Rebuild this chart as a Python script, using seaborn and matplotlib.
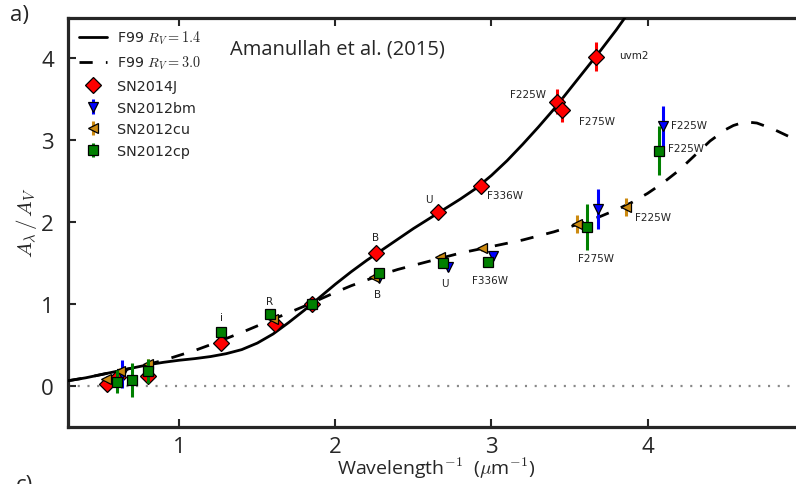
import matplotlib
matplotlib.use("Agg")
import matplotlib.pyplot as plt
from matplotlib.lines import Line2D
import numpy as np
import pandas as pd
import seaborn as sns

# --- F99 extinction curves (A_lambda / A_V) ---
f99_x = [0.29, 0.40, 0.50, 0.60, 0.70, 0.80, 0.90, 1.00, 1.10, 1.20, 1.30, 1.40,
         1.50, 1.60, 1.70, 1.80, 1.90, 2.00, 2.10, 2.20, 2.30, 2.40, 2.50, 2.60,
         2.70, 2.80, 2.90, 3.00, 3.10, 3.20, 3.30, 3.40, 3.50, 3.60, 3.70, 3.80, 3.90]
f99_rv14 = [0.06, 0.095, 0.135, 0.175, 0.215, 0.255, 0.285, 0.31, 0.33, 0.355, 0.39, 0.44,
            0.52, 0.63, 0.77, 0.92, 1.08, 1.24, 1.39, 1.53, 1.66, 1.79, 1.92, 2.04,
            2.16, 2.28, 2.41, 2.57, 2.75, 2.95, 3.16, 3.38, 3.62, 3.86, 4.10, 4.35, 4.62]

f99b_x = [0.29, 0.40, 0.50, 0.60, 0.70, 0.80, 0.90, 1.00, 1.10, 1.20, 1.30, 1.40,
          1.50, 1.60, 1.70, 1.80, 1.90, 2.00, 2.10, 2.20, 2.30, 2.40, 2.50, 2.60,
          2.70, 2.80, 2.90, 3.00, 3.10, 3.20, 3.30, 3.40, 3.50, 3.60, 3.70, 3.80,
          3.90, 4.00, 4.10, 4.20, 4.30, 4.40, 4.50, 4.55, 4.60, 4.65, 4.70, 4.80,
          4.90, 5.00]
f99_rv30 = [0.06, 0.095, 0.135, 0.175, 0.215, 0.26, 0.31, 0.37, 0.43, 0.50, 0.575, 0.65,
            0.73, 0.81, 0.89, 0.97, 1.055, 1.14, 1.22, 1.29, 1.36, 1.42, 1.47, 1.52,
            1.57, 1.62, 1.66, 1.70, 1.74, 1.78, 1.83, 1.88, 1.94, 2.00, 2.07, 2.15,
            2.24, 2.35, 2.48, 2.63, 2.81, 2.99, 3.13, 3.18, 3.21, 3.22, 3.21, 3.14,
            3.05, 2.96]

# --- SN photometry ---
sn14j_x = [0.54, 0.61, 0.80, 1.27, 1.61, 1.85, 2.26, 2.66, 2.93, 3.42, 3.45, 3.67]
sn14j_y = [0.02, 0.11, 0.12, 0.52, 0.75, 1.00, 1.62, 2.12, 2.44, 3.47, 3.37, 4.02]
sn14j_e = [0.06, 0.05, 0.07, 0.04, 0.04, 0.02, 0.04, 0.04, 0.04, 0.15, 0.15, 0.18]

sn12bm_x = [0.63, 2.28, 2.72, 3.01, 3.68, 4.10]
sn12bm_y = [0.14, 1.32, 1.45, 1.58, 2.16, 3.17]
sn12bm_e = [0.17, 0.04, 0.05, 0.05, 0.24, 0.25]

sn12cu_x = [0.53, 0.62, 0.80, 1.60, 2.25, 2.67, 2.94, 3.55, 3.86]
sn12cu_y = [0.08, 0.18, 0.27, 0.81, 1.33, 1.57, 1.68, 1.97, 2.18]
sn12cu_e = [0.03, 0.03, 0.05, 0.03, 0.03, 0.04, 0.03, 0.11, 0.11]

sn12cp_x = [0.60, 0.70, 0.80, 1.27, 1.58, 1.85, 2.28, 2.69, 2.98, 3.61, 4.07]
sn12cp_y = [0.05, 0.07, 0.18, 0.65, 0.87, 1.00, 1.38, 1.50, 1.51, 1.94, 2.87]
sn12cp_e = [0.14, 0.21, 0.15, 0.04, 0.04, 0.02, 0.04, 0.04, 0.04, 0.28, 0.30]

# --- filter labels ---
band_text = ["i", "R", "B", "U", "F336W", "F225W", "F275W", "uvm2",
             "B", "U", "F336W", "F275W", "F225W", "F225W", "F225W"]
band_x = [1.27, 1.58, 2.26, 2.60, 2.97, 3.35, 3.56, 3.82,
          2.27, 2.70, 2.99, 3.67, 3.92, 4.15, 4.13]
band_y = [0.84, 1.04, 1.82, 2.28, 2.33, 3.57, 3.24, 4.04,
          1.12, 1.25, 1.29, 1.56, 2.06, 3.19, 2.91]
band_ha = ["center", "center", "center", "center", "left", "right", "left", "left",
           "center", "center", "center", "center", "left", "left", "left"]

sns.set_style("ticks")
plt.rcParams["font.family"] = ["Open Sans", "DejaVu Sans"]
plt.rcParams["mathtext.fontset"] = "cm"
plt.rcParams["lines.scale_dashes"] = False

fig = plt.figure(figsize=(7.96, 4.85), dpi=100)
W, H = 796.0, 485.0
left_px, right_px, top_px, bot_px = 68.0, 803.7, 18.5, 427.5
ax = fig.add_axes([left_px / W, 1 - bot_px / H,
                   (right_px - left_px) / W, (bot_px - top_px) / H])

curve14 = pd.DataFrame({"x": f99_x, "y": f99_rv14})
curve30 = pd.DataFrame({"x": f99b_x, "y": f99_rv30})

sns.lineplot(data=curve14, x="x", y="y", ax=ax, color="black", lw=2.0,
             sort=False, estimator=None, zorder=3)
sns.lineplot(data=curve30, x="x", y="y", ax=ax, color="black", lw=2.0,
             sort=False, estimator=None, zorder=3)
ax.lines[-1].set_dashes([9.5, 9.5])

ax.axhline(0, color="#888888", lw=1.6, dashes=[1.5, 5.5], zorder=1)

series = [
    ("SN2014J", sn14j_x, sn14j_y, sn14j_e, "D", "#ff0000", 8),
    ("SN2012bm", sn12bm_x, sn12bm_y, sn12bm_e, "v", "#0000ff", 7.5),
    ("SN2012cu", sn12cu_x, sn12cu_y, sn12cu_e, "<", "#cc8a10", 7.5),
    ("SN2012cp", sn12cp_x, sn12cp_y, sn12cp_e, "s", "#008000", 7),
]
handles = [Line2D([], [], color="black", lw=2.0),
           Line2D([], [], color="black", lw=2.0, dashes=[9.5, 9.5])]
labels = ["F99 $R_V=1.4$", "F99 $R_V=3.0$"]
for i, (name, xs, ys, es, mk, col, ms) in enumerate(series):
    h = ax.errorbar(xs, ys, yerr=es, fmt=mk, color=col, ecolor=col, elinewidth=2.2,
                    capsize=0, ms=ms, mfc=col, mec="black", mew=0.9, zorder=4 + i)
    handles.append(h)
    labels.append(name)

for t, x, y, ha in zip(band_text, band_x, band_y, band_ha):
    ax.text(x, y, t, ha=ha, va="center", fontsize=7.5, family="DejaVu Sans",
            color="#222222", zorder=10)

ax.set_xlim(0.287, 5.0)
ax.set_ylim(-0.5, 4.5)
ax.set_xticks([1, 2, 3, 4])
ax.set_yticks([0, 1, 2, 3, 4])
ax.tick_params(direction="in", top=True, right=True, length=6, width=1.5,
               labelsize=16, pad=7)
ax.tick_params(axis="y", pad=10)
for sp in ax.spines.values():
    sp.set_linewidth(2.3)
    sp.set_visible(True)

ax.set_xlabel("Wavelength$^{-1}$  ($\\mu$m$^{-1}$)", fontsize=14, labelpad=-1.5)
ax.set_ylabel("$A_\\lambda\\,/\\,A_V$", fontsize=15, labelpad=1.5)

ax.text(0.366, 0.925, "Amanullah et al. (2015)", transform=ax.transAxes,
        ha="center", va="center", fontsize=14.5)

leg = ax.legend(handles, labels, loc="upper left", frameon=False,
                prop={"family": "DejaVu Sans", "size": 10.3},
                handlelength=1.9, handletextpad=0.7, labelspacing=0.53,
                borderaxespad=0.4, numpoints=1)

fig.text(10 / W, 1 - 5 / H, "a)", ha="left", va="top", fontsize=16)
fig.text(16 / W, 1 - 475 / H, "c)", ha="left", va="top", fontsize=16)

fig.savefig("out.png", dpi=100)
